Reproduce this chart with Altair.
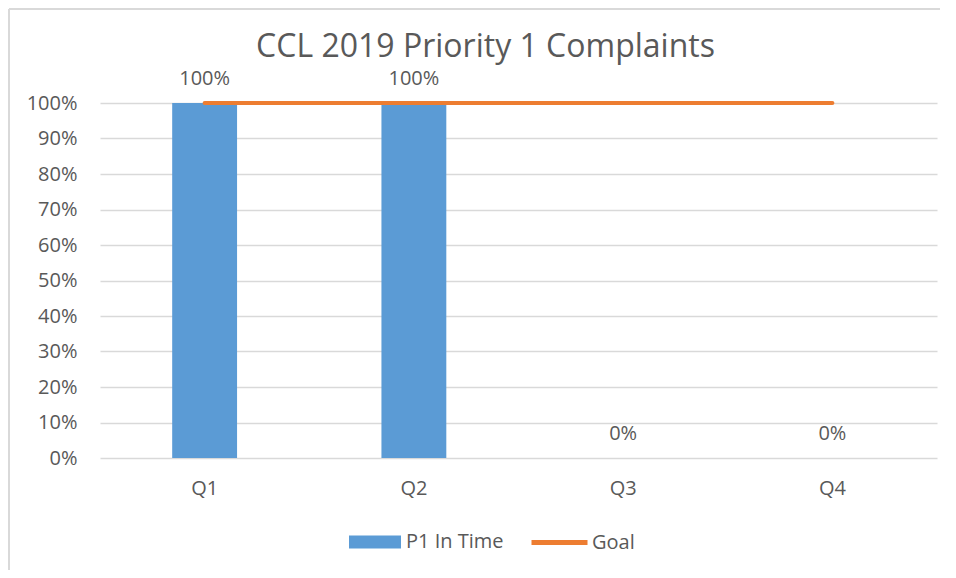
import altair as alt
import pandas as pd

quarters = ["Q1", "Q2", "Q3", "Q4"]
p1_in_time = [1.0, 1.0, 0.0, 0.0]
goal = [1.0, 1.0, 1.0, 1.0]
bar_labels = ["100%", "100%", "0%", "0%"]
y_ticks = [0.0, 0.1, 0.2, 0.3, 0.4, 0.5, 0.6, 0.7, 0.8, 0.9, 1.0]

df = pd.DataFrame({
    "quarter": quarters,
    "p1": p1_in_time,
    "goal": goal,
    "label": bar_labels,
    "s_bar": ["P1 In Time"] * 4,
    "s_goal": ["Goal"] * 4,
})

FONT = "Open Sans"
GRAY = "#595959"
BLUE = "#5B9BD5"
ORANGE = "#ED7D31"
FS = 20

W, H = 837, 355
PL, PT = 92, 95

xaxis = alt.Axis(labelAngle=0, labelFontSize=FS, labelColor=GRAY, labelFont=FONT,
                 ticks=False, domain=False, labelPadding=20)
yaxis = alt.Axis(format=".0%", values=y_ticks, tickCount=11, labelOverlap=False,
                 labelFontSize=FS, labelColor=GRAY, labelFont=FONT,
                 ticks=False, domain=False, labelPadding=23,
                 gridColor="#D9D9D9", gridWidth=1.5)
xscale = alt.Scale(paddingInner=0.69, paddingOuter=0.345)
yscale = alt.Scale(domain=[0, 1], nice=False)

base = alt.Chart(df)

bars = base.mark_bar(color=BLUE).encode(
    x=alt.X("quarter:N", sort=quarters, title=None, scale=xscale, axis=xaxis),
    y=alt.Y("p1:Q", title=None, scale=yscale, axis=yaxis),
    fill=alt.Fill("s_bar:N", scale=alt.Scale(range=[BLUE]),
                  legend=alt.Legend(title=None, orient="none", legendX=249, legendY=413,
                                    symbolType="M-1,-0.25H1V0.25H-1Z", symbolSize=2704,
                                    symbolStrokeWidth=0, labelFontSize=FS, labelColor=GRAY,
                                    labelFont=FONT, labelOffset=5)),
)

line = base.mark_line(color=ORANGE, strokeWidth=4, strokeCap="round").encode(
    x=alt.X("quarter:N", sort=quarters, title=None, scale=xscale, axis=xaxis),
    y=alt.Y("goal:Q", title=None, scale=yscale, axis=yaxis),
    stroke=alt.Stroke("s_goal:N", scale=alt.Scale(range=[ORANGE]),
                      legend=alt.Legend(title=None, orient="none", legendX=429, legendY=409,
                                        symbolType="stroke", symbolSize=3136,
                                        symbolStrokeWidth=5, labelFontSize=FS, labelColor=GRAY,
                                        labelFont=FONT, labelOffset=2)),
)

text = base.mark_text(dy=-18, baseline="alphabetic", fontSize=FS, color=GRAY, font=FONT).encode(
    x=alt.X("quarter:N", sort=quarters, title=None, scale=xscale, axis=xaxis),
    y=alt.Y("p1:Q", title=None, scale=yscale, axis=yaxis),
    text="label:N",
)

frame = base.mark_rule(color="#D9D9D9", strokeWidth=1.5).encode(
    x=alt.value(-PL + 1), x2=alt.value(W + 30),
    y=alt.value(-PT + 1),
)
frame_left = base.mark_rule(color="#D9D9D9", strokeWidth=1.5).encode(
    x=alt.value(-PL + 1), y=alt.value(-PT + 1), y2=alt.value(H + 200),
)

chart = alt.layer(frame, frame_left, bars, line, text).properties(
    width=W, height=H,
    padding={"left": PL, "top": PT, "right": 3, "bottom": 112},
    autosize=alt.AutoSizeParams(type="none"),
    title=alt.TitleParams("CCL 2019 Priority 1 Complaints", fontSize=32, font=FONT,
                          color=GRAY, fontWeight="normal", anchor="middle", frame="group",
                          dx=-33, offset=-56),
).configure_view(stroke=None)

chart.save("out.html", embed_options={"renderer": "svg", "actions": False})
